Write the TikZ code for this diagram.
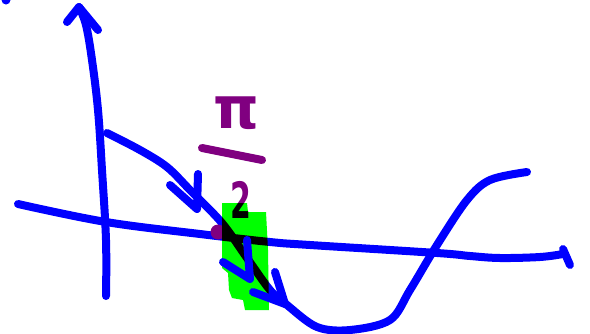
\documentclass[tikz,border=0pt]{standalone}
\usepackage{fontspec}
\newfontfamily\penfont{DejaVu Sans}
\definecolor{inkblue}{RGB}{0,0,255}
\definecolor{inkpurple}{RGB}{128,0,128}
\definecolor{marker}{RGB}{0,255,0}
\begin{document}
\begin{tikzpicture}[x=1pt,y=-1pt,
  pen/.style={line width=8pt,line cap=round,line join=round},
  blueink/.style={pen,draw=inkblue},
  purpleink/.style={pen,draw=inkpurple},
  handtext/.style={text=inkpurple,inner sep=0pt,font=\penfont\bfseries}]
\useasboundingbox (0,0) rectangle (590,333);
\clip (0,0) rectangle (590,333);

% stray dot in the corner
\fill[inkblue] (6,0) circle (4.5);

% vertical axis with its arrowhead
\coordinate (ytop) at (79,7);
\draw[blueink] plot[smooth,tension=0.6] coordinates
  {(106,296) (106,240) (102,170) (98,110) (92,60) (86,25) (ytop)};
\draw[blueink] (67,22) -- (ytop) -- (98,30);

% horizontal axis with its end tick
\coordinate (xend) at (563,254);
\draw[blueink] plot[smooth,tension=0.6] coordinates
  {(18,204) (106,222) (200,234) (270,242) (310,245) (437,253) (470,256) (500,258) (540,257) (xend)};
\draw[blueink] (563,249) -- (570,265);

% the curve
\draw[blueink] plot[smooth,tension=0.55] coordinates
  {(107,133) (140,150) (167,167) (190,190) (222,223) (247,258) (270,290)
   (287,305) (317,327) (350,330) (390,320) (410,290) (437,245) (467,200)
   (490,180) (527,172)};

% first direction arrow
\coordinate (tipA) at (197,209);
\draw[blueink] (170,185) -- (tipA) -- (198,174);

% label pi over 2
\node[handtext,font=\penfont\bfseries\fontsize{58}{58}\selectfont] (pi) at (236,113) {π};
\draw[purpleink] (202,148) -- (262,160);
\node[handtext,font=\penfont\bfseries\fontsize{50}{50}\selectfont,xscale=0.6] (two) at (241,200) {2};

% point on the axis
\fill[inkpurple] (218,232) circle (7.5);

% highlighter stroke
\begin{scope}[blend mode=multiply]
\fill[marker] (222,203) -- (247,203) -- (248,212) -- (266,212) -- (268,250)
  -- (269,310) -- (245,310) -- (243,300) -- (232,298) -- (229,290)
  -- (228,273) -- (222,268) -- cycle;
\end{scope}

% direction arrows drawn over the highlight
\coordinate (tipB) at (250,279);
\draw[blueink] (223,262) -- (tipB) -- (247,240);
\coordinate (tipC) at (285,304);
\draw[blueink] (253,292) -- (tipC) -- (275,272);
\end{tikzpicture}
\end{document}
